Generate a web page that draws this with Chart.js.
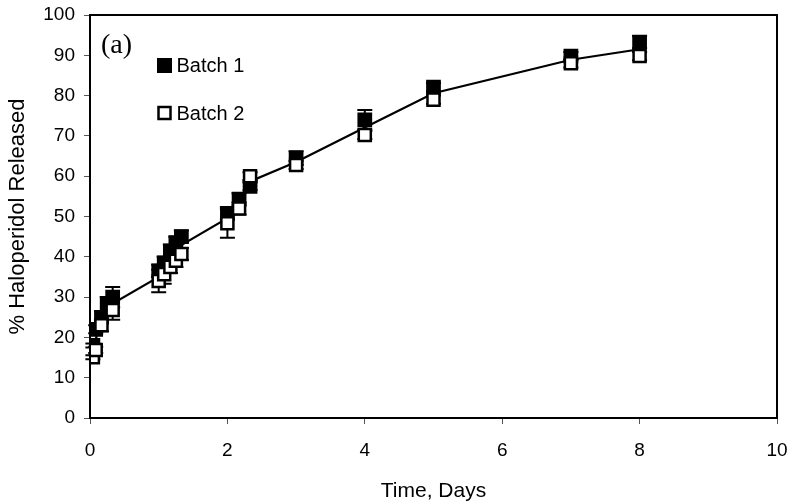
<!DOCTYPE html>
<html><head><meta charset="utf-8">
<script src="https://cdn.jsdelivr.net/npm/chart.js@4.4.1/dist/chart.umd.min.js"></script>
<style>html,body{margin:0;padding:0;background:#fff}#wrap{width:796px;height:504px;position:relative}</style>
</head><body><div id="wrap"><canvas id="c" width="796" height="504"></canvas></div>
<script>
// ---- data ----
const xTickValues = [0, 2, 4, 6, 8, 10];
const yTickValues = [0, 10, 20, 30, 40, 50, 60, 70, 80, 90, 100];

const batch1Times  = [0.042, 0.083, 0.167, 0.25, 0.33, 1.0, 1.08, 1.17, 1.25, 1.33, 2.0, 2.17, 2.33, 3, 4, 5, 7, 8];
const batch1Values = [18, 22, 25, 28, 30, 36.5, 38.5, 41.5, 43.5, 45, 50.8, 54.3, 57.5, 64.5, 74, 82.1, 89.8, 93.3];
const batch1Errors = [0.5, 1, 1.5, 2, 2.5, 1.5, 1.5, 1.5, 1.5, 1.5, 1.5, 1.5, 1, 1.7, 2.4, 1, 1, 1.5];

const batch2Times  = [0.042, 0.083, 0.167, 0.33, 1.0, 1.08, 1.17, 1.25, 1.33, 2.0, 2.17, 2.33, 3, 4, 5, 7, 8];
const batch2Values = [15.1, 16.9, 23, 26.8, 34, 35.7, 37.5, 39, 40.7, 48.3, 52, 60, 62.8, 70.2, 79, 88, 89.8];
const batch2Errors = [0.5, 0.8, 1.5, 2.4, 2.8, 2.4, 1.5, 1.5, 1.5, 3.6, 1.5, 1, 1, 1, 1, 1, 1];

const meanTimes  = [0.042, 0.083, 0.167, 0.25, 0.33, 1.0, 1.08, 1.17, 1.25, 1.33, 2.0, 2.17, 2.33, 3, 4, 5, 7, 8];
const meanValues = [16.5, 19.5, 24, 26.5, 28.4, 35, 37, 39.5, 41.2, 42.9, 49.6, 53.2, 58.7, 63.5, 72.1, 80.6, 88.9, 91.5];

const seriesNames = ['Batch 1', 'Batch 2'];
const panelLabel = '(a)';
const xTitle = 'Time, Days';
const yTitle = '% Haloperidol Released';

const toPts = (xs, ys) => xs.map((x, i) => ({x: x, y: ys[i]}));

const SANS = "'Liberation Sans', Arial, sans-serif";
const SERIF = "'Liberation Serif', 'Times New Roman', serif";

const extrasPlugin = {
  id: 'extras',
  beforeDatasetsDraw(chart) {
    const ctx = chart.ctx, xs = chart.scales.x, ys = chart.scales.y;
    ctx.save();
    ctx.strokeStyle = '#000';
    ctx.lineWidth = 2;
    const bars = [[batch1Times, batch1Values, batch1Errors], [batch2Times, batch2Values, batch2Errors]];
    bars.forEach(([t, v, e]) => {
      t.forEach((tv, i) => {
        const px = xs.getPixelForValue(tv);
        const top = ys.getPixelForValue(v[i] + e[i]);
        const bot = ys.getPixelForValue(v[i] - e[i]);
        ctx.beginPath();
        ctx.moveTo(px, top); ctx.lineTo(px, bot);
        ctx.moveTo(px - 7.5, top); ctx.lineTo(px + 7.5, top);
        ctx.moveTo(px - 7.5, bot); ctx.lineTo(px + 7.5, bot);
        ctx.stroke();
      });
    });
    ctx.restore();
  },
  afterDraw(chart) {
    const ctx = chart.ctx, a = chart.chartArea;
    ctx.save();
    ctx.strokeStyle = '#000';
    ctx.lineWidth = 2;
    ctx.strokeRect(a.left, a.top, a.right - a.left, a.bottom - a.top);
    // panel label
    ctx.fillStyle = '#000';
    ctx.font = '28px ' + SERIF;
    ctx.textBaseline = 'middle';
    ctx.textAlign = 'left';
    ctx.fillText(panelLabel, a.left + 11, a.top + 31);
    // legend
    const lx = a.left + 74.5;
    const ly1 = a.top + 50.5, ly2 = a.top + 98;
    ctx.fillRect(lx - 7.5, ly1 - 7.5, 15, 15);
    ctx.lineWidth = 2.5;
    ctx.fillStyle = '#fff';
    ctx.fillRect(lx - 6, ly2 - 6, 12, 12);
    ctx.strokeRect(lx - 6, ly2 - 6, 12, 12);
    ctx.fillStyle = '#000';
    ctx.font = '20px ' + SANS;
    ctx.fillText(seriesNames[0], lx + 12, ly1 + 1);
    ctx.fillText(seriesNames[1], lx + 12, ly2 + 1);
    ctx.restore();
  }
};

new Chart(document.getElementById('c'), {
  type: 'scatter',
  data: {
    datasets: [
      {
        label: seriesNames[1],
        data: toPts(batch2Times, batch2Values),
        pointStyle: 'rect', pointRadius: 8.5, pointHoverRadius: 8.5,
        backgroundColor: '#fff', borderColor: '#000', borderWidth: 2.5,
        showLine: false, order: 0
      },
      {
        label: seriesNames[0],
        data: toPts(batch1Times, batch1Values),
        pointStyle: 'rect', pointRadius: 9, pointHoverRadius: 9,
        backgroundColor: '#000', borderColor: '#000', borderWidth: 2,
        showLine: false, order: 1
      },
      {
        label: 'mean',
        data: toPts(meanTimes, meanValues),
        showLine: true, borderColor: '#000', borderWidth: 2.2, tension: 0,
        pointRadius: 0, pointHoverRadius: 0, fill: false, order: 2
      }
    ]
  },
  options: {
    responsive: false,
    animation: false,
    events: [],
    layout: { padding: { left: 0, right: 19, top: 15, bottom: 0 } },
    plugins: { legend: { display: false }, tooltip: { enabled: false }, title: { display: false } },
    scales: {
      x: {
        type: 'linear', min: 0, max: 10,
        afterBuildTicks: s => { s.ticks = xTickValues.map(v => ({value: v})); },
        afterFit: s => { s.height = 86; s.paddingLeft = 0; s.paddingRight = 0; },
        grid: { display: true, drawOnChartArea: false, drawTicks: true, tickLength: 6, color: '#555', lineWidth: 1 },
        border: { display: true, color: '#000', width: 2 },
        ticks: { color: '#000', font: { family: SANS, size: 19 }, padding: 15, maxRotation: 0 },
        title: { display: true, text: xTitle, color: '#000', font: { family: SANS, size: 21 }, padding: { top: 0, bottom: 0 } }
      },
      y: {
        type: 'linear', min: 0, max: 100,
        afterBuildTicks: s => { s.ticks = yTickValues.map(v => ({value: v})); },
        afterFit: s => { s.width = 90; s.paddingTop = 0; s.paddingBottom = 0; },
        grid: { display: true, drawOnChartArea: false, drawTicks: true, tickLength: 6, color: '#555', lineWidth: 1 },
        border: { display: true, color: '#000', width: 2 },
        ticks: { color: '#000', font: { family: SANS, size: 19 }, padding: 9 },
        title: { display: true, text: yTitle, color: '#000', font: { family: SANS, size: 22 }, padding: { top: 5, bottom: 0 } }
      }
    }
  },
  plugins: [extrasPlugin]
});
</script>
</body></html>
